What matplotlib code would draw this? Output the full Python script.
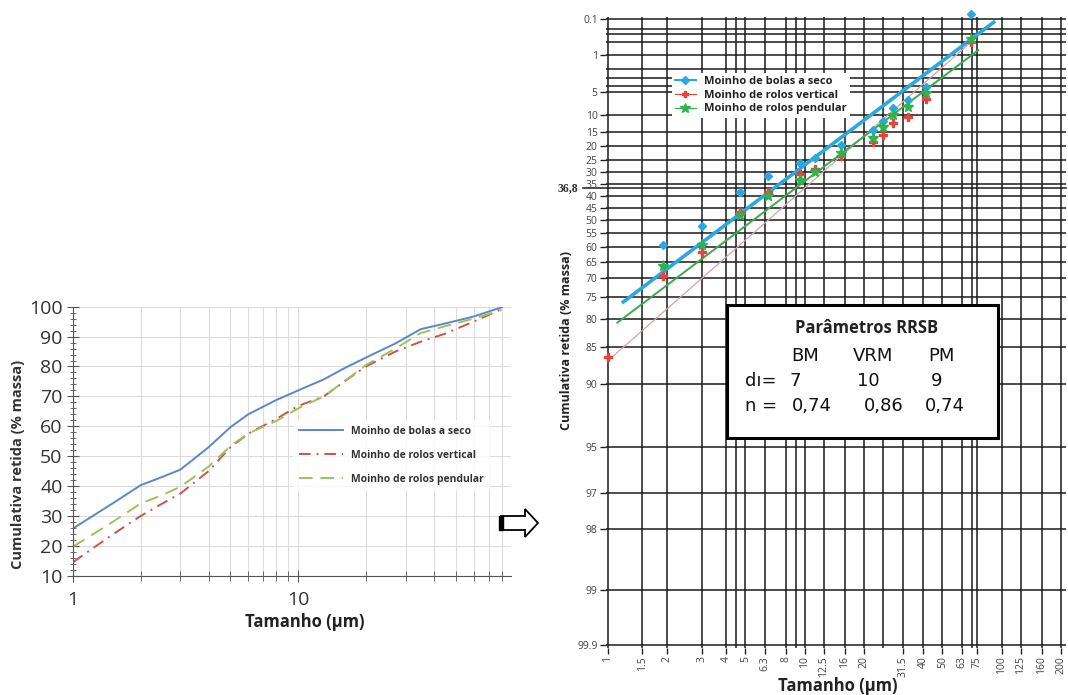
import numpy as np
import matplotlib.pyplot as plt
from matplotlib.ticker import FixedLocator, NullFormatter, MultipleLocator
from matplotlib.patches import Rectangle, Polygon
from matplotlib.lines import Line2D

plt.rcParams['font.family'] = ['Open Sans', 'DejaVu Sans']

# ---- left chart: cumulative retained (% mass) vs size
size_um = [1, 1.5, 2, 2.5, 3, 4, 5, 6, 8, 10, 13, 16, 20, 27, 35, 45, 60, 80]
ball_dry = [25.8, 34.2, 40.3, 43.1, 45.5, 53, 59.7, 64, 68.8, 72, 75.7, 79.4, 83, 87.7, 92.5, 94.4, 96.7, 99.8]
roller_vert = [14.5, 23.8, 30, 34.2, 37.5, 45, 53, 57.5, 62.5, 66.8, 70, 75, 80, 85, 88.3, 91, 95, 99.2]
roller_pend = [19.7, 28, 34.2, 37, 39.8, 46.5, 53.4, 57.6, 61.8, 66, 70, 75, 80.5, 86, 91.2, 93.5, 96, 98.9]
left_labels = ["Moinho de bolas a seco", "Moinho de rolos vertical", "Moinho de rolos pendular"]

# ---- right chart: RRSB grid points
pt_size = [1.9, 3, 4.7, 6.5, 9.5, 11.3, 15.3, 22.2, 25, 28, 33.4, 41.3, 70]
bm_ret = [59.5, 52.5, 38.5, 31.8, 26.5, 24.5, 19.5, 14.3, 11.5, 8.3, 6.5, 4.2, 0.065]
vrm_size = [1, 1.9, 3, 4.7, 6.5, 9.5, 11.3, 15.3, 22.2, 25, 28, 33.4, 41.3, 70]
vrm_ret = [86.5, 69.5, 61.9, 46.8, 38.5, 30.8, 29, 23.8, 18.5, 15.8, 12.3, 10.4, 6.3, 0.5]
pm_ret = [66.3, 59.5, 48, 40, 33.5, 30, 22.5, 17, 13.5, 10, 8, 5.2, 0.41]

mills = ["BM", "VRM", "PM"]
d_prime = [7, 10, 9]
n_exp = [0.74, 0.86, 0.74]
fit_from = [1.2, 1.0, 1.12]
fit_to = [91, 70, 76]

x_ticks = [1, 1.5, 2, 3, 4, 5, 6.3, 8, 10, 12.5, 16, 20, 31.5, 40, 50, 63, 75, 100, 125, 160, 200]
x_grid = x_ticks + [4.5, 9, 25, 71]
r_ticks = [0.1, 1, 5, 10, 15, 20, 25, 30, 35, 40, 45, 50, 55, 60, 65, 70, 75, 80, 85, 90, 95, 97, 98, 99]
r_grid = r_ticks + [0.2, 0.3, 0.5, 2, 3, 4]

W, H = 1068, 695


def fx(p):
    return p / W


def fy(p):
    return 1 - p / H


def rr(r):
    return np.log(np.log(100.0 / np.asarray(r, dtype=float)))


fig = plt.figure(figsize=(W / 100, H / 100), dpi=100)

# ================= left chart
ax1 = fig.add_axes([fx(73), fy(575.7), 438 / W, 269 / H])
ax1.plot(size_um, ball_dry, color="#5b87c9", lw=1.4, label=left_labels[0])
ax1.plot(size_um, roller_vert, color="#d0504b", lw=1.4, ls=(0, (6, 3, 1, 3)), label=left_labels[1])
ax1.plot(size_um, roller_pend, color="#9bc35a", lw=1.4, ls=(0, (7, 4)), label=left_labels[2])
ax1.set_xscale("log")
ax1.set_xlim(1, 88)
ax1.set_ylim(10, 100)
ax1.xaxis.set_major_locator(FixedLocator([1, 10]))
ax1.xaxis.set_major_formatter(plt.FixedFormatter(["1", "10"]))
ax1.xaxis.set_minor_locator(FixedLocator([2, 3, 4, 5, 6, 7, 8, 9, 20, 30, 40, 50, 60, 70, 80]))
ax1.xaxis.set_minor_formatter(NullFormatter())
ax1.yaxis.set_major_locator(MultipleLocator(10))
ax1.yaxis.set_minor_locator(MultipleLocator(2))
ax1.grid(True, which="major", axis="y", color="#dcdcdc", lw=0.8)
ax1.grid(True, which="both", axis="x", color="#dcdcdc", lw=0.8)
for s in ["top", "right"]:
    ax1.spines[s].set_visible(False)
for s in ["left", "bottom"]:
    ax1.spines[s].set_color("#555555")
ax1.tick_params(axis="both", which="major", direction="inout", length=8, color="#555555",
                labelsize=14, labelcolor="#333333")
ax1.tick_params(axis="both", which="minor", direction="inout", length=7, color="#555555")
ax1.tick_params(axis="y", which="minor", length=5)
ax1.tick_params(axis="x", which="major", pad=7)
leg1 = ax1.legend(loc="upper left", bbox_to_anchor=(0.49, 0.6), frameon=True, fontsize=7.5,
                  handlelength=4.2, labelspacing=1.25, borderpad=0.6)
leg1.get_frame().set_facecolor("white")
leg1.get_frame().set_edgecolor("none")
for t in leg1.get_texts():
    t.set_fontweight("bold")
    t.set_color("#333333")
fig.text(fx(18), fy(464), "Cumulativa retida (% massa)", rotation=90, ha="center", va="center",
         fontsize=10.5, fontweight="bold", color="#333333")
fig.text(fx(305), fy(622), "Tamanho (µm)", ha="center", va="center", fontsize=12,
         fontweight="bold", color="#222222")

# arrow between the charts
arrow = Polygon([(fx(501), fy(516)), (fx(525), fy(516)), (fx(525), fy(509)), (fx(538), fy(523)),
                 (fx(525), fy(537)), (fx(525), fy(530)), (fx(501), fy(530))],
                closed=True, transform=fig.transFigure, facecolor="white", edgecolor="black", lw=1.3)
fig.patches.append(arrow)
fig.patches.append(Rectangle((fx(499), fy(530)), 4 / W, 14 / H, transform=fig.transFigure,
                             facecolor="black", edgecolor="black"))

# ================= right chart (RRSB grid)
ax2 = fig.add_axes([fx(606), fy(648), (1066 - 606) / W, (648 - 17) / H])
ax2.set_xscale("log")
ax2.set_xlim(0.98, 212)
ax2.set_ylim(-5.269, 1.959)
for s in ax2.spines.values():
    s.set_visible(False)

for xv in x_grid:
    ax2.axvline(xv, color="#1a1a1a", lw=1.1, zorder=1)
for rv in r_grid:
    ax2.axhline(rr(rv), color="#1a1a1a", lw=1.1, zorder=1)
ax2.axhline(-5.23, color="#1a1a1a", lw=1.1, zorder=1)
ax2.plot([-0.05, 1.0], [rr(36.8)] * 2, transform=ax2.get_yaxis_transform(), color="#1a1a1a",
         lw=1.1, clip_on=False, zorder=1)

ax2.set_xticks(x_ticks)
ax2.set_xticklabels([("%g" % v) for v in x_ticks], rotation=90)
ax2.xaxis.set_minor_locator(FixedLocator([]))
ax2.set_yticks(list(rr(r_ticks)) + [-5.23])
ax2.set_yticklabels([("%g" % v) for v in r_ticks] + ["99.9"])
ax2.tick_params(axis="both", direction="out", length=4, width=1, color="#222222",
                labelsize=7.5, labelcolor="#444444", pad=2)
fig.text(fx(568), fy(188), "36,8", ha="center", va="center", fontsize=8.5, fontweight="bold",
         family="Liberation Serif", color="#333333")

# RRSB fitted lines
fit_styles = [("#2aa9e0", 2.6), ("#d8a4ac", 0.9), ("#3aaa4c", 1.4)]
for d, n, lo, hi, (c, lw) in zip(d_prime, n_exp, fit_from, fit_to, fit_styles):
    xs = np.geomspace(lo, hi, 60)
    ax2.plot(xs, n * np.log(xs / d), color=c, lw=lw, zorder=3)

ax2.plot(pt_size, rr(bm_ret), ls="none", marker="D", ms=4.5, color="#2aa9e0", zorder=4, clip_on=False)
ax2.plot(vrm_size, rr(vrm_ret), ls="none", marker="P", ms=5.5, color="#e8433c", zorder=4, clip_on=False)
ax2.plot(pt_size, rr(pm_ret), ls="none", marker="*", ms=8, color="#2fb34c", zorder=5, clip_on=False)

handles = [Line2D([], [], color="#2aa9e0", marker="D", ms=4, lw=1.5),
           Line2D([], [], color="#e8433c", marker="P", ms=5, lw=0.8),
           Line2D([], [], color="#2fb34c", marker="*", ms=7, lw=0.8)]
leg2 = ax2.legend(handles, left_labels, loc="upper left",
                  bbox_to_anchor=((666 - 606) / 460, (648 - 67) / 631), fontsize=8,
                  handlelength=1.9, handletextpad=0.7, labelspacing=0.25, borderpad=0.3,
                  frameon=True, framealpha=1)
leg2.get_frame().set_edgecolor("none")
for t in leg2.get_texts():
    t.set_fontweight("bold")
    t.set_color("#222222")

# parameter box
box = Rectangle((fx(727), fy(438)), (998 - 727) / W, (438 - 305) / H, transform=fig.transFigure,
                facecolor="white", edgecolor="black", lw=2.2, zorder=6)
fig.patches.append(box)
fig.text(fx(867), fy(328), "Parâmetros RRSB", ha="center", va="center", fontsize=12,
         fontweight="bold", color="#222222", zorder=7)
col_x = [805, 873, 941]
for cx, m in zip(col_x, mills):
    fig.text(fx(cx), fy(356), m, ha="center", va="center", fontsize=13, family="DejaVu Sans",
             color="#111111", zorder=7)
fig.text(fx(745), fy(381), "dı=", ha="left", va="center", fontsize=13, family="DejaVu Sans",
         color="#111111", zorder=7)
fig.text(fx(745), fy(406), "n =", ha="left", va="center", fontsize=13, family="DejaVu Sans",
         color="#111111", zorder=7)
d_x = [795, 868, 937]
n_x = [812, 884, 945]
for i in range(3):
    fig.text(fx(d_x[i]), fy(381), "%g" % d_prime[i], ha="center", va="center", fontsize=13,
             family="DejaVu Sans", color="#111111", zorder=7)
    fig.text(fx(n_x[i]), fy(406), ("%.2f" % n_exp[i]).replace(".", ","), ha="center", va="center",
             fontsize=13, family="DejaVu Sans", color="#111111", zorder=7)

fig.text(fx(567), fy(340), "Cumulativa retida (% massa)", rotation=90, ha="center", va="center",
         fontsize=9, fontweight="bold", color="#222222")
fig.text(fx(838), fy(686), "Tamanho (µm)", ha="center", va="center", fontsize=12,
         fontweight="bold", color="#222222")

fig.savefig("out.png", dpi=100)
